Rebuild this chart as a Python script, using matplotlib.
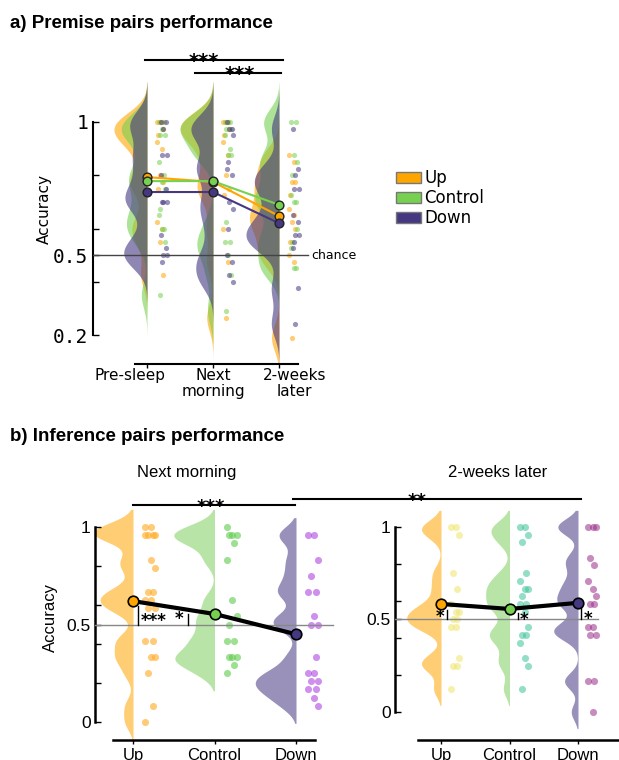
import numpy as np
import matplotlib
matplotlib.use('Agg')
import matplotlib.pyplot as plt
from matplotlib.patches import Patch
from matplotlib.lines import Line2D
import matplotlib.transforms as mtransforms

plt.rcParams['font.family'] = ['DejaVu Sans']

# ---------------- data ----------------
sessions = ['Pre-sleep', 'Next\nmorning', '2-weeks\nlater']
groups = ['Up', 'Control', 'Down']

# premise pairs: per-session individual accuracies
premise_up = [
    [1.0, 1.0, 1.0, 0.975, 0.95, 0.925, 0.9, 0.8, 0.775, 0.75, 0.625, 0.6, 0.55, 0.425],
    [1.0, 1.0, 1.0, 0.975, 0.95, 0.925, 0.875, 0.8, 0.75, 0.725, 0.6, 0.475, 0.265],
    [0.875, 0.85, 0.775, 0.775, 0.725, 0.675, 0.65, 0.625, 0.6, 0.55, 0.5, 0.475, 0.19],
]
premise_control = [
    [1.0, 1.0, 0.975, 0.95, 0.95, 0.85, 0.8, 0.775, 0.75, 0.675, 0.65, 0.6, 0.6, 0.55, 0.35],
    [1.0, 1.0, 1.0, 0.975, 0.975, 0.95, 0.9, 0.875, 0.875, 0.625, 0.55, 0.55, 0.5, 0.425, 0.29],
    [1.0, 1.0, 0.875, 0.85, 0.8, 0.725, 0.7, 0.7, 0.6, 0.55, 0.525, 0.45, 0.45],
]
premise_down = [
    [1.0, 1.0, 0.975, 0.875, 0.875, 0.8, 0.75, 0.7, 0.7, 0.7, 0.575, 0.525, 0.5, 0.5, 0.475],
    [1.0, 0.975, 0.975, 0.95, 0.85, 0.825, 0.8, 0.7, 0.675, 0.6, 0.5, 0.475, 0.425, 0.4],
    [0.975, 0.825, 0.8, 0.75, 0.75, 0.65, 0.625, 0.575, 0.575, 0.55, 0.525, 0.375, 0.24],
]
premise_mean_up = [0.793, 0.775, 0.647]
premise_mean_control = [0.778, 0.778, 0.689]
premise_mean_down = [0.737, 0.737, 0.62]

# inference pairs
infer_groups = ['Up', 'Control', 'Down']
infer_nm_up = [1.0, 1.0, 0.958, 0.958, 0.958, 0.958, 0.833, 0.792, 0.667, 0.667, 0.625, 0.625,
               0.583, 0.583, 0.417, 0.417, 0.333, 0.333, 0.25, 0.083, 0.0]
infer_nm_control = [1.0, 0.958, 0.958, 0.958, 0.917, 0.833, 0.625, 0.542, 0.5,
                    0.417, 0.417, 0.333, 0.333, 0.333, 0.292, 0.25]
infer_nm_down = [0.958, 0.958, 0.833, 0.75, 0.667, 0.667, 0.542, 0.5, 0.5, 0.333,
                 0.25, 0.25, 0.208, 0.208, 0.167, 0.167, 0.125, 0.083]
infer_2w_up = [1.0, 1.0, 0.958, 0.75, 0.667, 0.583, 0.542, 0.542, 0.5, 0.5,
               0.458, 0.458, 0.292, 0.25, 0.25, 0.125]
infer_2w_control = [1.0, 1.0, 0.958, 0.917, 0.75, 0.708, 0.667, 0.667, 0.625, 0.583,
                    0.583, 0.542, 0.458, 0.417, 0.417, 0.375, 0.292, 0.25, 0.125]
infer_2w_down = [1.0, 1.0, 1.0, 0.833, 0.792, 0.708, 0.667, 0.625, 0.583, 0.583,
                 0.458, 0.458, 0.417, 0.417, 0.167, 0.167, 0.0]
infer_mean_nm = [0.62, 0.554, 0.45]
infer_mean_2w = [0.584, 0.557, 0.59]
chance = 0.5

# ---------------- style ----------------
C_UP, C_CTRL, C_DOWN = '#ffa500', '#77d150', '#453781'
W, H = 619, 760
fig = plt.figure(figsize=(W / 100, H / 100), dpi=100)


def add_ax(l, t, r, b):
    ax = fig.add_axes([l / W, 1 - b / H, (r - l) / W, (b - t) / H])
    ax.patch.set_visible(False)
    for s in ['top', 'right']:
        ax.spines[s].set_visible(False)
    return ax


def half_violins(ax, datasets, positions, colors, alpha, width, bw, cut):
    curves = []
    for vals in datasets:
        v = np.asarray(vals, float)
        g = np.linspace(v.min() - cut * bw, v.max() + cut * bw, 400)
        d = np.exp(-0.5 * ((g[:, None] - v[None, :]) / bw) ** 2).sum(1)
        d /= (len(v) * bw * np.sqrt(2 * np.pi))
        curves.append((g, d))
    m = max(d.max() for g, d in curves)
    for (g, d), p, c in zip(curves, positions, colors):
        ax.fill_betweenx(g, p - width * d / m, p, color=c, alpha=alpha, lw=0, zorder=1)


def jitter(n, base, pattern=(0.0, 0.06, 0.12, 0.03, 0.09)):
    return np.array([base + pattern[i % len(pattern)] for i in range(n)])


def stars(ax, x, y, s, fs=13, dy=-0.38, ha='center'):
    ax.annotate(s, xy=(x, y), xytext=(0, dy * fs), textcoords='offset points',
                ha=ha, va='baseline', fontsize=fs, fontweight='bold',
                annotation_clip=False, zorder=10)

# ================= panel a =================
axa = add_ax(93, 50, 330, 364)
axa.set_xlim(-0.818, 2.773)
axa.set_ylim(0.0911, 1.2704)
pos = np.arange(len(sessions))

for s in range(len(sessions)):
    half_violins(axa, [premise_up[s], premise_control[s], premise_down[s]],
                 [pos[s]] * 3, [C_UP, C_CTRL, C_DOWN], 0.6, 0.5, 0.05, 3)

for s in range(len(sessions)):
    for k, (vals, c) in enumerate(zip([premise_up[s], premise_control[s], premise_down[s]],
                                      [C_UP, C_CTRL, C_DOWN])):
        xs = pos[s] + jitter(len(vals), 0.15 + 0.03 * k, (0.0, 0.08, 0.04, 0.1, 0.02))
        axa.scatter(xs, vals, s=14, color=c, alpha=0.55, lw=0, zorder=2)

axa.plot([-0.818, 2.44], [chance, chance], color='#444444', lw=1, zorder=3)
axa.text(2.485, chance, 'chance', fontsize=9, va='center', ha='left')

for means, c in zip([premise_mean_up, premise_mean_control, premise_mean_down],
                    [C_UP, C_CTRL, C_DOWN]):
    axa.plot(pos, means, color=c, lw=1.5, marker='o', ms=6.3, mfc=c, mec='#222222',
             mew=1, zorder=6)

axa.spines['left'].set_bounds(0.2, 1.0)
axa.spines['left'].set_linewidth(1.5)
axa.spines['bottom'].set_bounds(-0.18, 2.29)
axa.spines['bottom'].set_linewidth(1.5)
axa.set_yticks([0.2, 0.4, 0.5, 0.6, 0.8, 1.0])
axa.set_yticklabels(['0.2', '', '0.5', '', '', '1'], fontsize=14, family='DejaVu Sans Mono')
axa.tick_params(axis='y', direction='in', length=4, width=1, pad=3.5)
axa.set_xticks(pos)
axa.set_xticklabels(['', '', ''])
axa.tick_params(axis='x', direction='out', length=3, width=1)
tr = mtransforms.blended_transform_factory(axa.transData, axa.transAxes)
for x, lab in zip([-0.26, 1.0, 2.24], sessions):
    axa.text(x, -0.013, lab, transform=tr, ha='center', va='top', fontsize=11,
             linespacing=1.05)
axa.text(-0.205, 0.495, 'Accuracy', transform=axa.transAxes, rotation=90,
         fontsize=11, ha='center', va='center')

# significance a
axa.plot([-0.03, 2.06], [1.233, 1.233], color='black', lw=1.5, clip_on=False)
stars(axa, 0.86, 1.233, '***', fs=14)
axa.plot([0.727, 2.03], [1.184, 1.184], color='black', lw=1.5, clip_on=False)
stars(axa, 1.41, 1.184, '***', fs=14)

# legend
fig.legend(handles=[Patch(facecolor=c, edgecolor='#777777', lw=1) for c in [C_UP, C_CTRL, C_DOWN]],
           labels=groups, loc='upper left', bbox_to_anchor=(396 / W, 1 - 169 / H),
           frameon=False, fontsize=12, handlelength=1.5, handleheight=0.65,
           handletextpad=0.2, labelspacing=0.12, borderpad=0, borderaxespad=0)

fig.text(10 / W, 1 - 28 / H, 'a) Premise pairs performance', fontsize=13.5,
         fontweight='bold', family='Liberation Sans', va='baseline')
fig.text(10 / W, 1 - 441 / H, 'b) Inference pairs performance', fontsize=13.5,
         fontweight='bold', family='Liberation Sans', va='baseline')

# ================= panel b =================
ipos = np.arange(len(infer_groups))


def infer_panel(ax, data, means, vcolors, dcolors, dalpha, width, title, tx):
    half_violins(ax, data, ipos, vcolors, 0.55, width, 0.045, 2)
    for k, (vals, c) in enumerate(zip(data, dcolors)):
        xs = ipos[k] + jitter(len(vals), 0.15, (0.0, 0.07, 0.12, 0.03, 0.09))
        ax.scatter(xs, vals, s=26, color=c, alpha=dalpha, lw=0, zorder=2)
    ax.plot(ipos, means, color='black', lw=3, zorder=5)
    for k in range(3):
        ax.plot(ipos[k], means[k], marker='o', ms=7.6, mfc=[C_UP, C_CTRL, C_DOWN][k],
                mec='black', mew=1.2, zorder=6)
    ax.spines['left'].set_bounds(0, 1)
    ax.spines['left'].set_linewidth(1.8)
    ax.spines['bottom'].set_linewidth(1.8)
    ax.set_yticks([0, 0.2, 0.4, 0.5, 0.6, 0.8, 1.0])
    ax.set_yticklabels(['0', '', '', '0.5', '', '', '1'], fontsize=12.5,
                       family='Liberation Sans')
    ax.tick_params(axis='y', direction='in', length=4, width=1, pad=3)
    ax.set_xticks(ipos)
    ax.set_xticklabels(infer_groups, fontsize=12, family='Liberation Sans')
    ax.tick_params(axis='x', direction='out', length=3, width=1, pad=2.5)
    ax.text(tx, 1 + 18 / 245, title, transform=ax.transAxes, fontsize=12,
            family='Liberation Sans', ha='center', va='baseline')


axb1 = add_ax(95, 495, 335, 740)
axb1.set_xlim(-0.4663, 2.4785)
axb1.set_ylim(-0.0923, 1.1641)
infer_panel(axb1, [infer_nm_up, infer_nm_control, infer_nm_down], infer_mean_nm,
            [C_UP, '#7fd160', C_DOWN], ['#ffa91e', '#5ccc4a', '#b045e0'], 0.6, 0.5,
            'Next morning', 0.383)
axb1.spines['bottom'].set_bounds(-0.245, 2.23)
axb1.plot([-0.4663, 2.454], [chance, chance], color='#888888', lw=1, zorder=3, clip_on=False)

axb2 = add_ax(395, 495, 619, 740)
axb2.set_xlim(-0.6715, 2.5985)
axb2.set_ylim(-0.1514, 1.173)
infer_panel(axb2, [infer_2w_up, infer_2w_control, infer_2w_down], infer_mean_2w,
            [C_UP, '#7fd160', C_DOWN], ['#efe56a', '#3cc49a', '#9a2c88'], 0.55, 0.5,
            '2-weeks later', 0.46)
axb2.spines['bottom'].set_bounds(-0.336, 2.5985)
axb2.plot([-0.6715, 2.29], [chance, chance], color='#888888', lw=1, zorder=3)

axb1.set_ylabel('Accuracy', fontsize=12, family='Liberation Sans', labelpad=6)


# significance b: bars from chance to group mean
def sig_bar(ax, x, top, s, sx, sy, ha):
    ax.plot([x, x], [chance, top], color='black', lw=1, zorder=7)
    ax.annotate(s, xy=(sx, sy), xytext=(0, -0.6 * 12), textcoords='offset points',
                ha=ha, va='baseline', fontsize=12, fontweight='bold', zorder=10)


sig_bar(axb1, 0.06, infer_mean_nm[0] - 0.025, '***', 0.09, 0.545, 'left')
sig_bar(axb1, 0.675, infer_mean_nm[1], '*', 0.62, 0.555, 'right')
sig_bar(axb2, 0.09, infer_mean_2w[0] - 0.03, '*', 0.05, 0.54, 'right')
sig_bar(axb2, 1.124, infer_mean_2w[1] - 0.02, '*', 1.15, 0.525, 'left')
sig_bar(axb2, 2.044, infer_mean_2w[2] - 0.03, '*', 2.08, 0.53, 'left')

axb1.plot([0, 1.99], [1.113, 1.113], color='black', lw=1.5, clip_on=False)
stars(axb1, 0.957, 1.113, '***', fs=13)

# bracket spanning both inference panels
fig.canvas.draw()
yb = (712 - 499) / 185
p1 = axb1.transData.transform((1.963, 1.1436))
p2 = axb2.transData.transform((2.044, yb))
inv = fig.transFigure.inverted()
f1, f2 = inv.transform(p1), inv.transform(p2)
fig.add_artist(Line2D([f1[0], f2[0]], [f1[1], f1[1]], color='black', lw=1.5,
                      transform=fig.transFigure))
stars(axb2, -0.35, yb, '**', fs=13)

fig.savefig('out.png', dpi=100)
